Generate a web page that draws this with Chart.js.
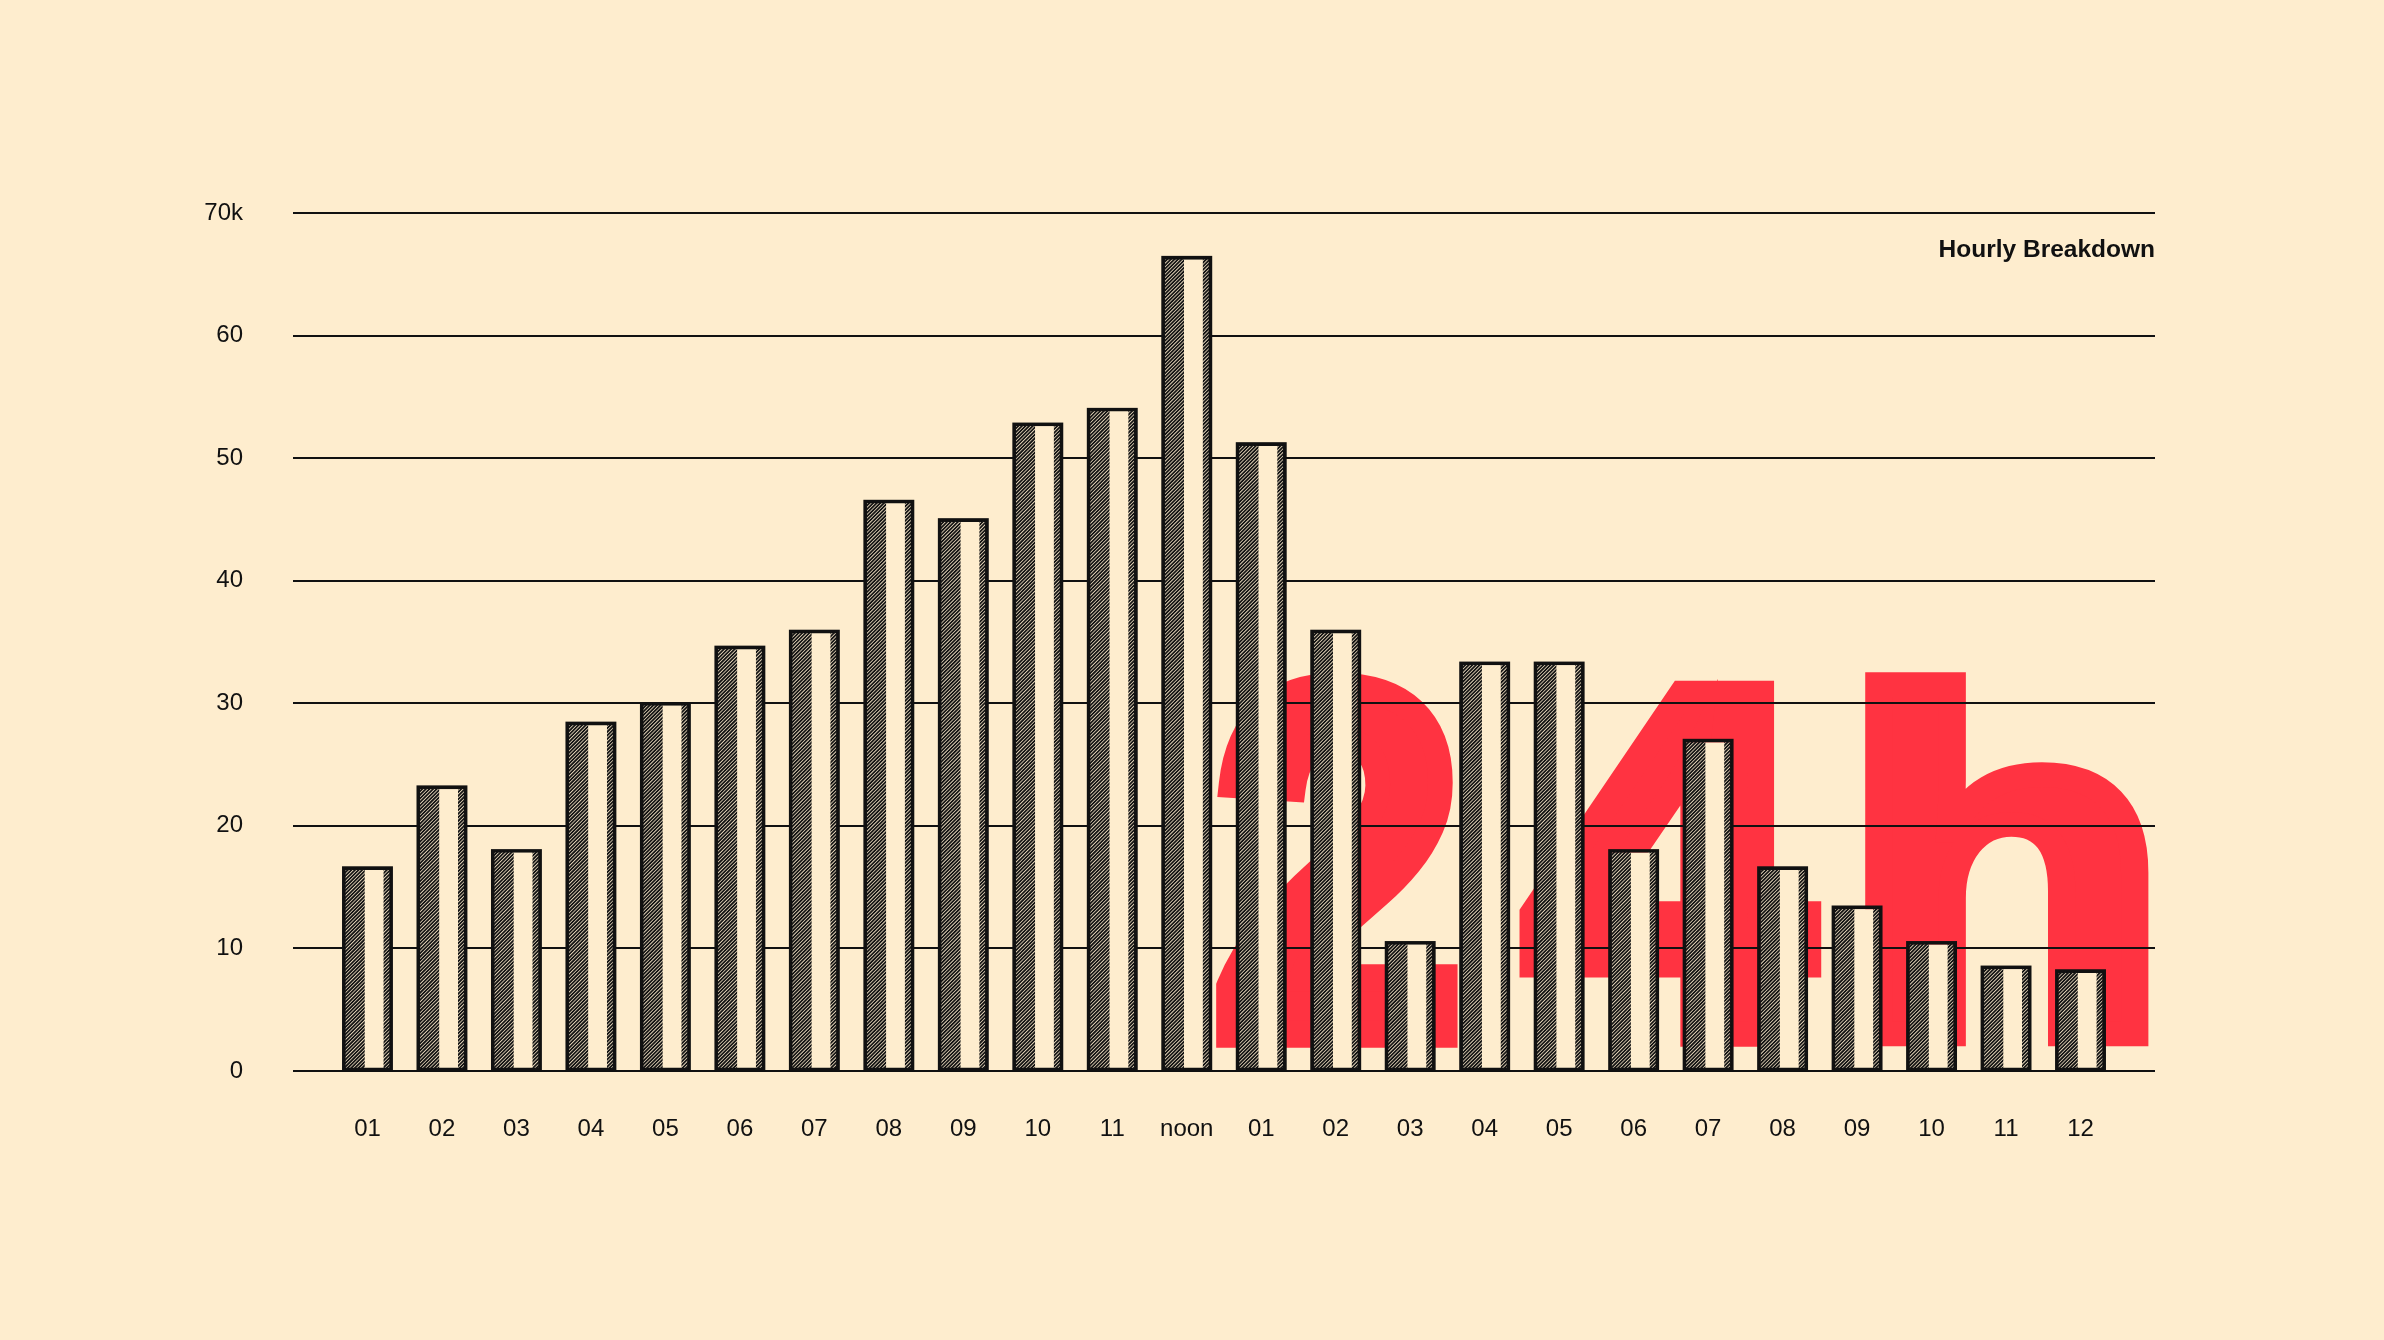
<!DOCTYPE html>
<html>
<head>
<meta charset="utf-8">
<script src="https://cdn.jsdelivr.net/npm/chart.js@4/dist/chart.umd.min.js"></script>
<style>
  html, body { margin: 0; padding: 0; background: #FEEDCE; }
  #wrap { width: 2384px; height: 1340px; }
</style>
</head>
<body>
<div id="wrap"><canvas id="c" width="2384" height="1340"></canvas></div>
<script>
// ---- data ----
const hours = ['01','02','03','04','05','06','07','08','09','10','11','noon',
               '01','02','03','04','05','06','07','08','09','10','11','12'];
const visitsK = [16.6, 23.2, 18.0, 28.4, 30.0, 34.6, 35.9, 46.5, 45.0, 52.8, 54.0, 66.4,
                 51.2, 35.9, 10.5, 33.3, 33.3, 18.0, 27.0, 16.6, 13.4, 10.5, 8.5, 8.2];
const yTicks = [0, 10, 20, 30, 40, 50, 60, 70];
const yTickLabels = ['0', '10', '20', '30', '40', '50', '60', '70k'];
const chartTitle = 'Hourly Breakdown';
const bigMark = ['2', '4', 'h'];

// padded category axis (empty slot at each end)
const labels = [''].concat(hours, ['']);
const values = [null].concat(visitsK, [null]);

const BG = '#FEEDCE';
const RED = '#FF3341';
const INK = '#111111';
const FONT = '"Liberation Sans", Arial, Helvetica, sans-serif';

const backdrop = {
  id: 'backdrop',
  beforeDraw(chart) {
    const ctx = chart.ctx;
    const a = chart.chartArea;
    ctx.save();
    ctx.fillStyle = BG;
    ctx.fillRect(0, 0, chart.width, chart.height);
    // big red "24h" glyphs, each fitted to its box (offsets from chart area right/bottom)
    const boxes = [
      { l: -941, r: -690, t: -400, b: -24 },
      { l: -643, r: -328, t: -398, b: -24 },
      { l: -293, r: 0,    t: -404, b: -24 }
    ];
    const half = 13;
    ctx.fillStyle = RED;
    ctx.strokeStyle = RED;
    ctx.lineJoin = 'miter';
    ctx.font = 'bold 400px ' + FONT;
    ctx.textAlign = 'left';
    ctx.textBaseline = 'alphabetic';
    bigMark.forEach((g, i) => {
      const m = ctx.measureText(g);
      const gw = m.actualBoundingBoxLeft + m.actualBoundingBoxRight;
      const gh = m.actualBoundingBoxAscent + m.actualBoundingBoxDescent;
      const bx = boxes[i];
      const L = a.right + bx.l + half, R = a.right + bx.r - half;
      const T = a.bottom + bx.t + half, B = a.bottom + bx.b - half;
      const sx = (R - L) / gw, sy = (B - T) / gh;
      ctx.save();
      ctx.translate(L, T);
      ctx.scale(sx, sy);
      ctx.lineWidth = 2 * half / Math.sqrt(sx * sy);
      ctx.fillText(g, m.actualBoundingBoxLeft, m.actualBoundingBoxAscent);
      ctx.strokeText(g, m.actualBoundingBoxLeft, m.actualBoundingBoxAscent);
      ctx.restore();
    });
    ctx.restore();
  }
};

const hatch = {
  id: 'hatch',
  afterDatasetsDraw(chart) {
    const ctx = chart.ctx;
    const meta = chart.getDatasetMeta(0);
    const bw = 2.5;
    meta.data.forEach((bar, i) => {
      if (values[i] == null) return;
      const p = bar.getProps(['x', 'y', 'base', 'width'], true);
      const left = p.x - p.width / 2 + bw / 2;
      const right = p.x + p.width / 2 - bw / 2;
      const top = Math.min(p.y, p.base) + bw / 2;
      const bottom = Math.max(p.y, p.base);
      const w = right - left;
      const regions = [[left, left + w * 0.44], [right - w * 0.15, right]];
      regions.forEach(([x0, x1]) => {
        ctx.save();
        ctx.beginPath();
        ctx.rect(x0, top, x1 - x0, bottom - top);
        ctx.clip();
        ctx.strokeStyle = '#141414';
        ctx.lineWidth = 1.8;
        ctx.beginPath();
        const h = bottom - top;
        for (let s = x0 - h - 10; s < x1 + 10; s += 3.6) {
          ctx.moveTo(s, bottom);
          ctx.lineTo(s + h, top);
        }
        ctx.stroke();
        ctx.restore();
      });
      // re-stroke outline
      ctx.save();
      ctx.strokeStyle = INK;
      ctx.lineWidth = bw;
      ctx.strokeRect(p.x - p.width / 2, Math.min(p.y, p.base), p.width, Math.abs(p.base - p.y));
      ctx.restore();
    });
  },
  afterDraw(chart) {
    const ctx = chart.ctx;
    const a = chart.chartArea;
    ctx.save();
    ctx.fillStyle = INK;
    ctx.font = 'bold 24.5px ' + FONT;
    ctx.textAlign = 'right';
    ctx.textBaseline = 'alphabetic';
    ctx.fillText(chartTitle, a.right, a.top + 44);
    ctx.restore();
  }
};

new Chart(document.getElementById('c'), {
  type: 'bar',
  data: {
    labels: labels,
    datasets: [{
      data: values,
      backgroundColor: BG,
      borderColor: INK,
      borderWidth: 2.5,
      borderSkipped: false,
      categoryPercentage: 1,
      barPercentage: 0.65
    }]
  },
  options: {
    responsive: false,
    animation: false,
    devicePixelRatio: 1,
    layout: { padding: { left: 0, right: 229, top: 213, bottom: 0 } },
    plugins: { legend: { display: false }, tooltip: { enabled: false }, title: { display: false } },
    scales: {
      x: {
        offset: false,
        grid: { display: false, drawTicks: false },
        border: { display: false },
        ticks: {
          color: INK, padding: 44, maxRotation: 0, autoSkip: false,
          font: { family: FONT, size: 24 }
        },
        afterFit(s) { s.height = 1340 - 1071; }
      },
      y: {
        min: 0, max: 70,
        afterBuildTicks(s) { s.ticks = yTicks.map(v => ({ value: v })); },
        grid: { color: INK, lineWidth: 2, drawTicks: false },
        border: { display: false },
        ticks: {
          color: INK, padding: 50,
          font: { family: FONT, size: 24 },
          callback(v) { const i = yTicks.indexOf(v); return i >= 0 ? yTickLabels[i] : ''; }
        },
        afterFit(s) { s.width = 293; }
      }
    }
  },
  plugins: [backdrop, hatch]
});
</script>
</body>
</html>
